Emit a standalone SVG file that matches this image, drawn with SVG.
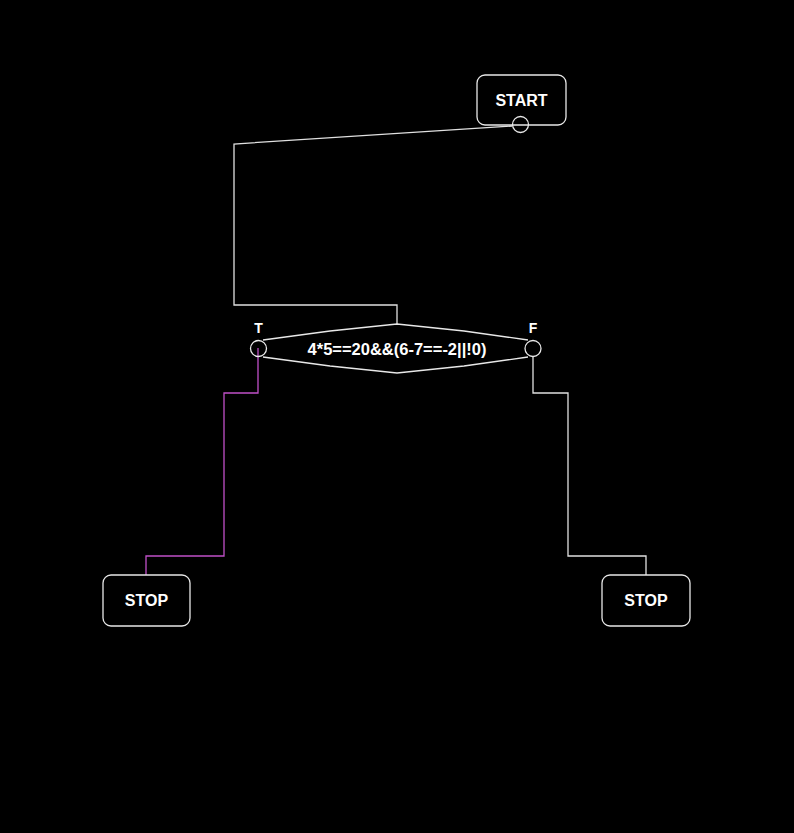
<svg xmlns="http://www.w3.org/2000/svg" width="794" height="833" viewBox="0 0 794 833">
<style>
.shape{fill:none;stroke:#e8e8e8;stroke-width:1.3}
.wire{fill:none;stroke:#e0e0e0;stroke-width:1.3}
.wire.t{stroke:#c050c8}
.lbl{font-family:"Liberation Sans",Arial,sans-serif;font-weight:bold;fill:#ffffff;text-anchor:middle}
</style>
<rect width="794" height="833" fill="#000"/>
<g id="connectors">
<polyline class="wire" points="512,126 234,144 234,305 397,305 397,325"/>
<polyline class="wire t" points="258,348 258,393 224,393 224,556 146,556 146,575"/>
<polyline class="wire" points="533,356 533,393 568,393 568,556 646,556 646,575"/>
</g>
<g id="start">
<rect class="shape" x="477" y="75" width="89" height="50" rx="8"/>
<text class="lbl" x="521.5" y="106" font-size="16">START</text>
<circle class="shape" cx="520.5" cy="124.5" r="8"/>
</g>
<g id="decision">
<path class="shape" d="M263,340 L330,331 L397,324 L464,331 L528,340 M263,357 L330,366 L397,373 L464,366 L528,357"/>
<circle class="shape" cx="258.5" cy="348.5" r="8"/>
<circle class="shape" cx="533" cy="348.5" r="8"/>
<text class="lbl" x="397" y="355" font-size="16.5">4*5==20&amp;&amp;(6-7==-2||!0)</text>
<text class="lbl" x="258.5" y="333" font-size="14">T</text>
<text class="lbl" x="533" y="333" font-size="14">F</text>
</g>
<g id="stop1">
<rect class="shape" x="103" y="575" width="87" height="51" rx="8"/>
<text class="lbl" x="146.5" y="606" font-size="16">STOP</text>
</g>
<g id="stop2">
<rect class="shape" x="602" y="575" width="88" height="51" rx="8"/>
<text class="lbl" x="646" y="606" font-size="16">STOP</text>
</g>
</svg>
